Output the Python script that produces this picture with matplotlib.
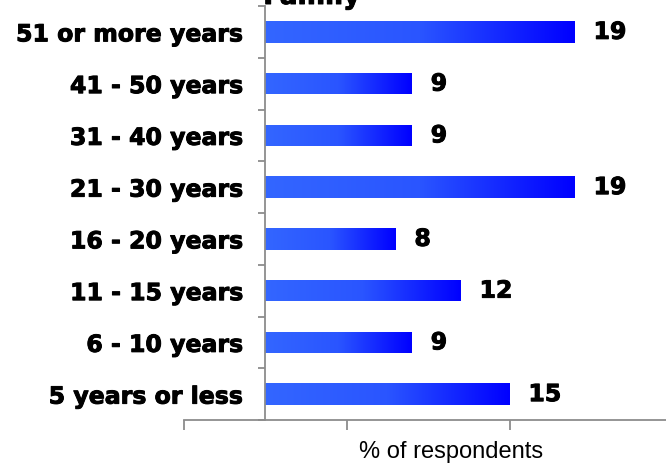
import numpy as np
import matplotlib
matplotlib.use("Agg")
import matplotlib.pyplot as plt
import matplotlib.patheffects as pe
from matplotlib.colors import LinearSegmentedColormap

categories = ["5 years or less", "6 - 10 years", "11 - 15 years", "16 - 20 years",
              "21 - 30 years", "31 - 40 years", "41 - 50 years", "51 or more years"]
values = [15, 9, 12, 8, 19, 9, 9, 19]
title_text = "Family"
xlabel_text = "% of respondents"

W, H = 666, 468
fig = plt.figure(figsize=(W / 100, H / 100), dpi=100)
ax = fig.add_axes([184 / W, 1 - 420 / H, 1 - 184 / W, (420 - 6) / H])

heavy = [pe.withStroke(linewidth=0.7, foreground="black")]

n = len(categories)
ypos = np.arange(n)
bar_h = 0.42
grad = LinearSegmentedColormap.from_list("blue_grad", ["#3366ff", "#2a55ff", "#0000ff"])

bars = ax.barh(ypos, values, height=bar_h, color="none", edgecolor="none", zorder=2)
ramp = np.linspace(0, 1, 256).reshape(1, -1)
for rect in bars:
    x0, y0 = rect.get_x(), rect.get_y()
    w, h = rect.get_width(), rect.get_height()
    im = ax.imshow(ramp, cmap=grad, aspect="auto", extent=[x0, x0 + w, y0, y0 + h],
                   origin="lower", zorder=2, interpolation="bilinear")
    im.set_clip_path(rect)

for y, v in zip(ypos, values):
    ax.text(v + 1.15, y, f"{v}", va="center", ha="left", fontsize=17,
            fontweight="bold", color="black", path_effects=heavy)

ax.set_xlim(-5, 24.6)
ax.set_ylim(-0.5, n - 0.5)

# spines: value axis along the bottom, category axis at zero
for side in ("top", "right"):
    ax.spines[side].set_visible(False)
ax.spines["left"].set_position(("data", 0))
for side in ("left", "bottom"):
    ax.spines[side].set_color("#8c8c8c")
    ax.spines[side].set_linewidth(1.3)

ax.set_xticks([-5, 5, 15])
ax.set_xticklabels([])
ax.tick_params(axis="x", direction="out", length=7, width=1.3, color="#8c8c8c")

ax.set_yticks(np.arange(-0.5, n, 1.0))
ax.set_yticklabels([])
ax.tick_params(axis="y", which="major", direction="out", length=5, width=1.3, color="#8c8c8c")
ax.set_yticks(ypos, minor=True)
ax.set_yticklabels(categories, minor=True, fontsize=17, fontweight="bold")
for lbl in ax.get_yticklabels(minor=True):
    lbl.set_path_effects(heavy)
ax.tick_params(axis="y", which="minor", length=0, pad=16)

ax.set_facecolor("none")

fig.text(451 / W, 1 - 452 / H, xlabel_text, ha="center", va="center",
         fontsize=17, family="Liberation Sans")
fig.text(312 / W, 1 - 4 / H, title_text, ha="center", va="baseline",
         fontsize=19, fontweight="bold", path_effects=heavy)

fig.savefig("out.png", dpi=100)
